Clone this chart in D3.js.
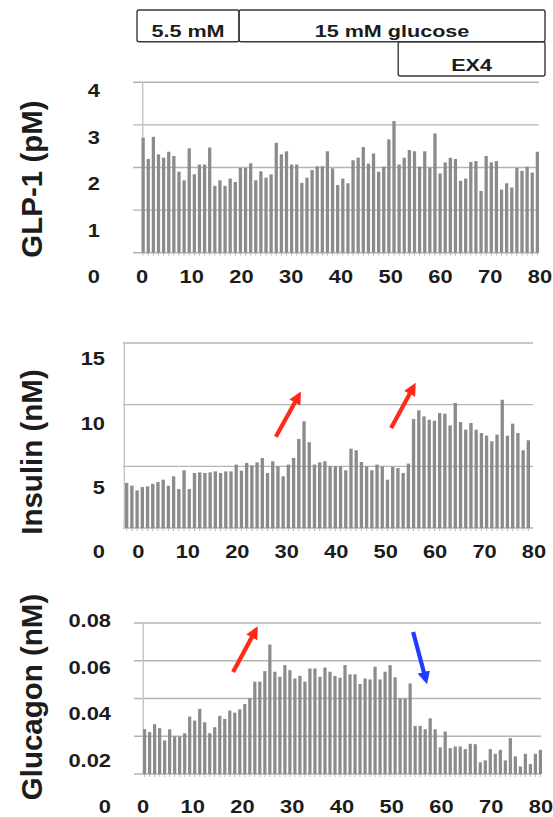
<html>
<head>
<script src="https://d3js.org/d3.v7.min.js"></script>
<style>
  body { margin: 0; background: #fff; }
  text { font-family: "Liberation Sans", Arial, sans-serif; font-weight: bold; fill: #1c1c1c; }
</style>
</head>
<body>
<svg id="chart" width="553" height="817"></svg>
<script>
// bar heights, one bar per sample
const glp1 = [2.70,2.20,2.72,2.31,2.23,2.37,2.27,1.90,1.70,2.45,1.84,2.07,2.07,2.47,1.57,1.70,1.57,1.74,1.66,1.99,
  1.99,2.10,1.70,1.91,1.76,1.84,2.58,2.31,2.38,2.07,2.07,1.64,1.76,1.94,2.03,2.03,2.38,1.98,1.59,1.74,
  1.63,2.17,2.23,2.48,2.09,2.33,1.90,2.02,2.66,3.09,2.07,2.23,2.41,2.38,2.02,2.38,2.00,2.80,1.86,2.12,
  2.23,2.20,1.69,1.74,2.13,2.15,1.45,2.27,2.12,2.15,1.48,1.63,1.53,1.99,1.92,2.02,1.88,2.37];
const insulin = [3.65,3.43,3.05,3.32,3.38,3.59,3.73,3.92,3.43,4.19,3.16,4.68,3.16,4.46,4.51,4.46,4.51,4.59,4.46,4.59,
  4.59,5.14,4.65,5.27,5.08,5.32,5.68,4.46,5.41,5.00,4.19,5.14,5.68,7.22,8.65,6.95,5.14,5.32,5.41,5.00,
  5.00,5.00,4.68,6.43,6.30,5.35,5.00,4.68,5.14,5.00,3.92,4.95,4.86,4.46,5.22,8.84,9.54,9.05,8.78,8.70,
  9.32,9.27,8.32,10.14,8.59,7.97,8.51,7.97,7.70,7.49,7.03,7.57,10.4,7.49,8.46,7.70,6.30,7.11];
const glucagon = [0.0237,0.0222,0.0264,0.0243,0.0178,0.0237,0.0199,0.0199,0.0216,0.0304,0.0283,0.0345,0.0274,0.0216,0.0248,
  0.0308,0.0292,0.0336,0.0325,0.0343,0.0371,0.0401,0.0489,0.0489,0.0545,0.0686,0.0542,0.0515,0.0577,0.0550,
  0.0506,0.0520,0.0489,0.0559,0.0559,0.0515,0.0564,0.0542,0.0519,0.0510,0.0577,0.0528,0.0528,0.0477,0.0506,
  0.0501,0.0568,0.0501,0.0542,0.0577,0.0512,0.0400,0.0400,0.0480,0.0255,0.0255,0.0237,0.0295,0.0237,0.0141,
  0.0225,0.0137,0.0146,0.0146,0.0132,0.0160,0.0158,0.0062,0.0072,0.0132,0.0107,0.0128,0.0072,0.0190,0.0093,
  0.0040,0.0107,0.0053,0.0107,0.0128];

// axis labels
const timeTicks = [0, 10, 20, 30, 40, 50, 60, 70, 80];
const glpTicks = [0, 1, 2, 3, 4];
const insulinTicks = [0, 5, 10, 15];
const glucagonTicks = [0, 0.02, 0.04, 0.06, 0.08];

// treatment periods on top (minutes)
const treatNames = ["5.5 mM", "15 mM glucose", "EX4"];
const treatStart = [-1, 19.5, 51.5];
const treatEnd = [19.5, 81, 81];

// arrows drawn on the panels, in minutes / panel units
const insulinArrows = [[27.8, 7.4, 32.5, 10.8, "#ff2a1a"], [51.1, 8.1, 55.7, 11.5, "#ff2a1a"]];
const glucagonArrows = [[18.1, 0.054, 22.7, 0.0765, "#ff2a1a"], [54.3, 0.0752, 56.9, 0.0495, "#1f3cff"]];

const svg = d3.select("#chart");
const stretch = 1.25;   // labels in the figure are a bit wide

// markers for the arrows
const defs = svg.append("defs");
["#ff2a1a", "#1f3cff"].forEach((c, i) => {
  defs.append("marker")
    .attr("id", "head" + i)
    .attr("viewBox", "0 0 10 10")
    .attr("refX", 7).attr("refY", 5)
    .attr("markerWidth", 3).attr("markerHeight", 3)
    .attr("orient", "auto")
    .append("path").attr("d", "M0,0 L10,5 L0,10 z").attr("fill", c);
});

function drawPanel(p) {
  const g = svg.append("g");
  const y = d3.scaleLinear().domain([0, p.ticks[p.ticks.length - 1]]).range([p.base, p.top]);
  const x = d3.scaleBand().domain(d3.range(p.values.length)).range([p.barLeft, p.barRight]).paddingInner(0.36);
  const t = d3.scaleLinear().domain([0, 80]).range([p.timeLeft, p.timeRight]);
  const ly = d3.scaleLinear().domain(y.domain()).range([p.labelBase, p.labelTop]);

  // gridlines
  g.selectAll("line.grid").data(p.ticks).join("line")
    .attr("class", "grid")
    .attr("x1", p.gridLeft).attr("x2", p.gridRight)
    .attr("y1", d => y(d)).attr("y2", d => y(d))
    .attr("stroke", "#b4b4b4").attr("stroke-width", 1.4);

  g.append("line")
    .attr("x1", p.axisX).attr("x2", p.axisX)
    .attr("y1", y.range()[0]).attr("y2", y.range()[1])
    .attr("stroke", "#c4c4c4").attr("stroke-width", 1.4);

  // bars
  g.selectAll("rect.bar").data(p.values).join("rect")
    .attr("class", "bar")
    .attr("x", (d, i) => x(i))
    .attr("width", x.bandwidth())
    .attr("y", d => y(d))
    .attr("height", d => y(0) - y(d))
    .attr("fill", "#8b8b8b");

  // little ticks under the bars
  g.append("g")
    .attr("transform", "translate(0," + y(0) + ")")
    .call(d3.axisBottom(x).tickSize(3).tickFormat(""))
    .call(s => s.select(".domain").remove())
    .selectAll("line").attr("stroke", "#b8b8b8");

  // y labels (sit lower than the gridlines, as in the figure)
  g.selectAll("text.ylab").data(p.ticks).join("text")
    .attr("class", "ylab")
    .attr("transform", d => "translate(" + p.labelRight + "," + ly(d) + ") scale(" + stretch + ",1)")
    .attr("dy", "0.36em")
    .attr("text-anchor", "end")
    .style("font-size", "17.5px")
    .text(d => d);

  // time labels
  g.selectAll("text.xlab").data(timeTicks).join("text")
    .attr("class", "xlab")
    .attr("transform", d => "translate(" + t(d) + "," + p.labelBase + ") scale(" + stretch + ",1)")
    .attr("dy", "0.36em")
    .attr("text-anchor", "middle")
    .style("font-size", "17.5px")
    .text(d => d);

  // axis title
  g.append("text")
    .attr("transform", "translate(41.5," + p.titleY + ") rotate(-90)")
    .attr("text-anchor", "middle")
    .style("font-size", "29.5px")
    .text(p.title);

  // arrows
  (p.arrows || []).forEach(a => {
    g.append("line")
      .attr("x1", t(a[0])).attr("y1", y(a[1]))
      .attr("x2", t(a[2])).attr("y2", y(a[3]))
      .attr("stroke", a[4]).attr("stroke-width", 4.2)
      .attr("marker-end", "url(#head" + (a[4] === "#ff2a1a" ? 0 : 1) + ")");
  });
  return t;
}

const tGlp = drawPanel({
  values: glp1, ticks: glpTicks, title: "GLP-1 (pM)", titleY: 179,
  base: 252.7, top: 82.3, barLeft: 141.5, barRight: 539,
  gridLeft: 133, gridRight: 539, axisX: 142.7,
  timeLeft: 142, timeRight: 540,
  labelBase: 277, labelTop: 91, labelRight: 100
});

drawPanel({
  values: insulin, ticks: insulinTicks, title: "Insulin (nM)", titleY: 452,
  base: 528, top: 343, barLeft: 125, barRight: 530,
  gridLeft: 123, gridRight: 533, axisX: 124.3,
  timeLeft: 138.4, timeRight: 534,
  labelBase: 552, labelTop: 359, labelRight: 105,
  arrows: insulinArrows
});

drawPanel({
  values: glucagon, ticks: glucagonTicks, title: "Glucagon (nM)", titleY: 697,
  base: 774, top: 623, barLeft: 143, barRight: 542,
  gridLeft: 134, gridRight: 541, axisX: 143.3,
  timeLeft: 143, timeRight: 541,
  labelBase: 807, labelTop: 621, labelRight: 111,
  arrows: glucagonArrows
});

// treatment boxes, placed on the GLP-1 time axis
const rowTop = [10, 10, 41.7];
const rowBottom = [41.7, 41.7, 76];
const header = svg.append("g");
treatNames.forEach((name, i) => {
  header.append("rect")
    .attr("x", tGlp(treatStart[i])).attr("y", rowTop[i])
    .attr("width", tGlp(treatEnd[i]) - tGlp(treatStart[i]))
    .attr("height", rowBottom[i] - rowTop[i])
    .attr("rx", 2)
    .attr("fill", "none").attr("stroke", "#383838").attr("stroke-width", 1.4);
  header.append("text")
    .attr("transform", "translate(" + (tGlp(treatStart[i]) + tGlp(treatEnd[i])) / 2 + "," + (rowBottom[i] - 5) + ") scale(1.27,1)")
    .attr("text-anchor", "middle")
    .style("font-size", "17px")
    .text(name);
});
</script>
</body>
</html>
